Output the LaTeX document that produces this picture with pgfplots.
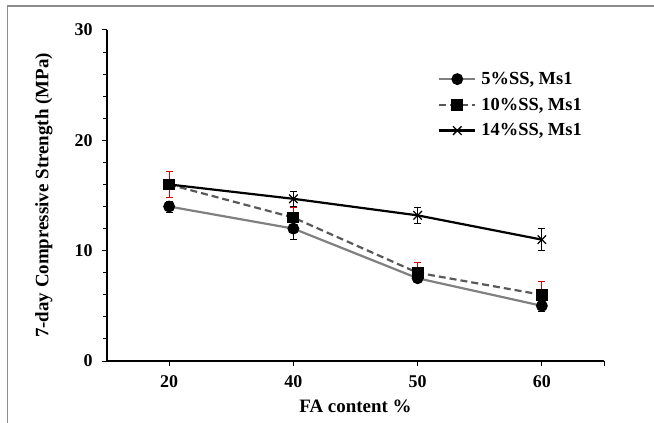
\documentclass[border=0pt]{standalone}
\usepackage{pgfplots}
\pgfplotsset{compat=1.18}
\usepackage{pgfplotstable}
\usepackage{fontspec}
\setmainfont{Liberation Serif}
\pgfplotstableread{
x y e
0 14 0.5
1 12 1.0
2 7.5 0.3
3 5 0.5
}\ssfive
\pgfplotstableread{
x y e
0 16 1.2
1 13 0.9
2 8 0.9
3 6 1.2
}\ssten
\pgfplotstableread{
x y e
0 16 0.4
1 14.7 0.7
2 13.2 0.7
3 11 1.0
}\ssfourteen
\begin{document}
\begin{tikzpicture}
\useasboundingbox (-107bp,-62bp) rectangle (547bp,361bp);
\draw[black!45, line width=1.5bp] (-99.5bp,-62bp) -- (-99.5bp,355bp) -- (547bp,355bp);
\begin{axis}[
  name=ax,
  scale only axis,
  width=497bp, height=331bp,
  xmin=-0.5, xmax=3.5,
  ymin=0, ymax=30,
  axis x line*=bottom, axis y line*=left,
  axis line style={line width=1.3bp, -},
  xtick={0,1,2,3,3.5},
  xticklabels={20,40,50,60,},
  ytick={0,10,20,30},
  minor y tick num=4,
  tick align=outside,
  major tick length=5bp, minor tick length=4bp,
  every tick/.style={black, line width=1bp},
  tick label style={font=\fontsize{18}{20}\selectfont\bfseries},
  /pgf/number format/assume math mode=true,
  xticklabel style={yshift=-6bp},
  yticklabel style={xshift=-6bp},
  xlabel={FA content \%},
  ylabel={7-day Compressive Strength (MPa)},
  label style={font=\fontsize{19}{22}\selectfont\bfseries},
  xlabel style={at={(axis description cs:0.5,0)}, anchor=center, yshift=-45bp},
  ylabel style={at={(axis description cs:-0.127,0.5)}, anchor=center},
  legend style={at={(rel axis cs:0.66,0.885)}, anchor=north west, draw=none, fill=none,
    font=\fontsize{18.5}{21}\selectfont\bfseries, row sep=8bp,
    nodes={inner xsep=2bp},
    /tikz/every odd column/.append style={column sep=3bp}},
  legend cell align=left,
  legend image code/.code={\draw[mark repeat=2, mark phase=2] plot coordinates {(0bp,0bp) (18bp,0bp) (36bp,0bp)};},
  clip=false,
]
\addplot[color=black!50, line width=2.2bp, mark=*, mark size=4.8bp,
  mark options={solid, fill=black, draw=black},
  error bars/.cd, y dir=both, y explicit,
  error bar style={black, line width=0.8bp, solid},
  error mark options={rotate=90, mark size=3.5bp, black, line width=0.8bp}]
  table[x=x, y=y, y error=e] {\ssfive};
\addlegendentry{5\%SS, Ms1}
\addplot[color=black!65, line width=2.2bp, dashed, dash pattern=on 7bp off 4bp, mark=square*, mark size=4.8bp,
  mark options={solid, fill=black, draw=black},
  error bars/.cd, y dir=both, y explicit,
  error bar style={red!85!black, line width=1bp, solid},
  error mark options={rotate=90, mark size=3.5bp, red!85!black, line width=1bp}]
  table[x=x, y=y, y error=e] {\ssten};
\addlegendentry{10\%SS, Ms1}
\addplot[color=black, line width=2.2bp, mark=x, mark size=6bp,
  mark options={solid, draw=black, line width=1.3bp},
  error bars/.cd, y dir=both, y explicit,
  error bar style={black, line width=0.8bp, solid},
  error mark options={rotate=90, mark size=3.5bp, black, line width=0.8bp}]
  table[x=x, y=y, y error=e] {\ssfourteen};
\addlegendentry{14\%SS, Ms1}
\end{axis}
\end{tikzpicture}
\end{document}
